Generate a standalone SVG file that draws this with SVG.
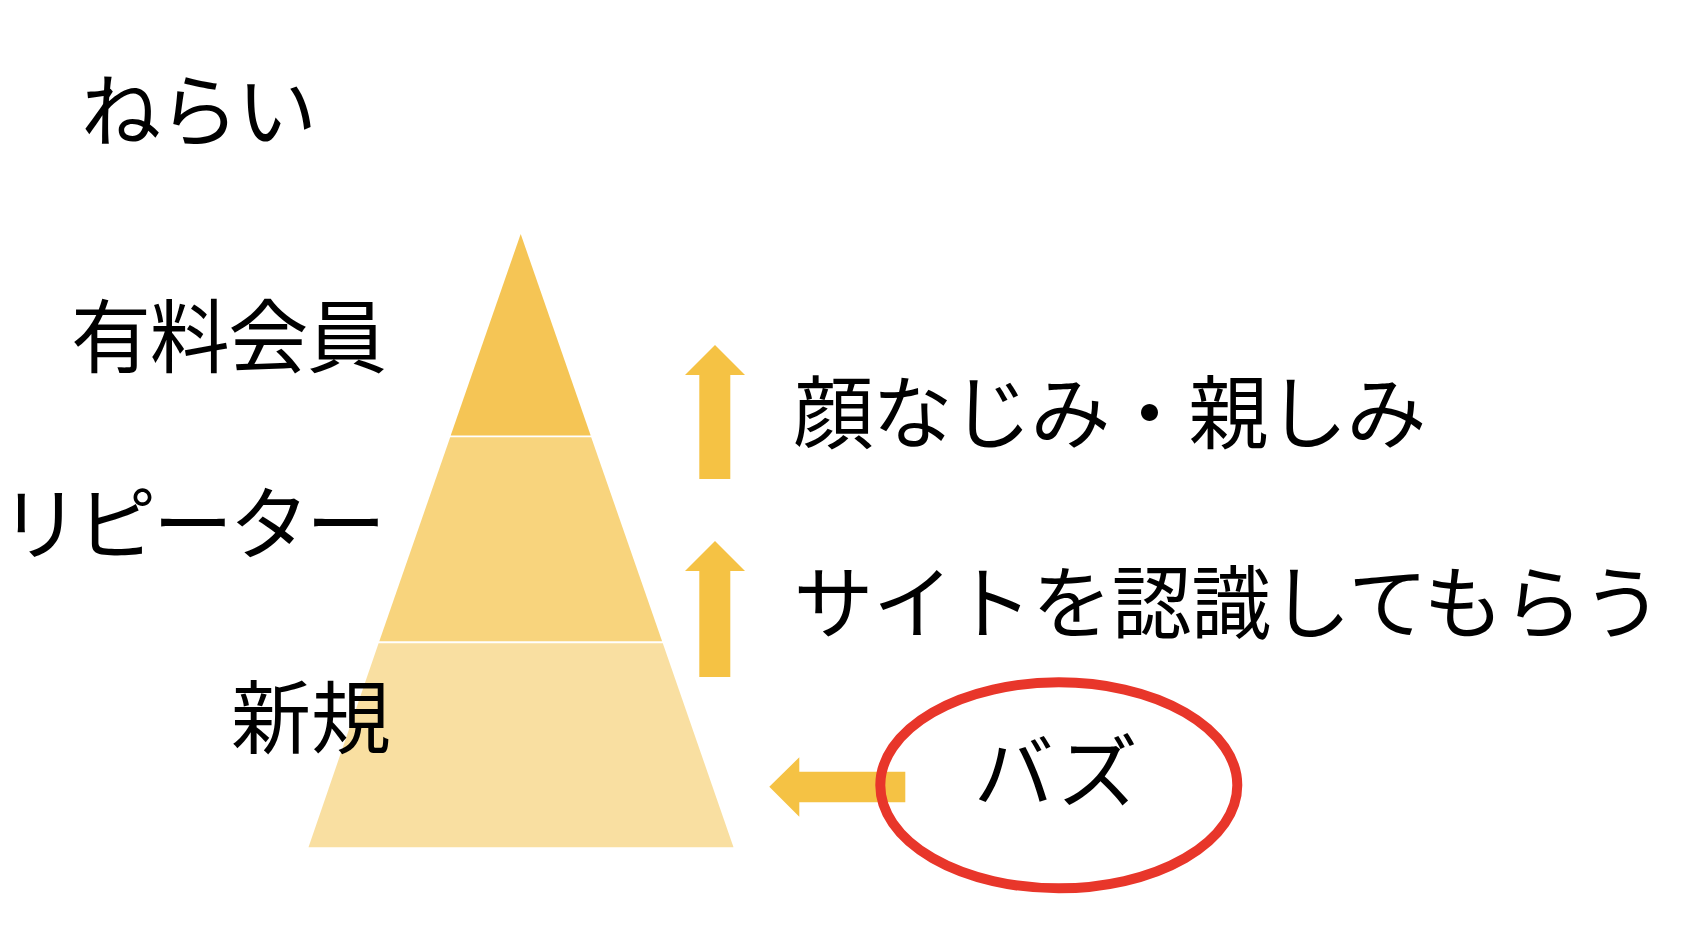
<svg xmlns="http://www.w3.org/2000/svg" width="1692" height="926" viewBox="0 0 1692 926">
<style>
.t{font-family:"Noto Sans CJK JP","Noto Sans CJK SC",sans-serif;font-size:80px;fill:#000;}
.arr{fill:#F5C244;}
</style>
<rect width="1692" height="926" fill="#fff"/>
<g id="title"><text class="t" x="81" y="140" textLength="236" lengthAdjust="spacing">ねらい</text></g>
<g id="pyramid">
<g id="tier-top"><polygon points="520.7,234 590.7,435.5 450.7,435.5" fill="#F5C555"/></g>
<g id="tier-mid"><polygon points="450.2,437.3 591.2,437.3 662.1,641.3 379.3,641.3" fill="#F8D47D"/></g>
<g id="tier-bottom"><polygon points="378.6,643.2 662.8,643.2 733.5,847.2 308.5,847.2" fill="#F9DFA1"/></g>
</g>
<g id="labels">
<g id="label-paid"><text class="t" x="71" y="366" textLength="316" lengthAdjust="spacing">有料会員</text></g>
<g id="label-repeater"><text class="t" x="0" y="553" textLength="386" lengthAdjust="spacing">リピーター</text></g>
<g id="label-new"><text class="t" x="231" y="747" textLength="160" lengthAdjust="spacing">新規</text></g>
</g>
<g id="connectors">
<polygon class="arr" points="715,345 745,375 730.3,375 730.3,479 699.3,479 699.3,375 685,375"/>
<polygon class="arr" points="715,541 745,571 730.3,571 730.3,677 699.3,677 699.3,571 685,571"/>
<polygon class="arr" points="769.3,786.7 799.3,757.3 799.3,771.7 905.3,771.7 905.3,802.3 799.3,802.3 799.3,816.7"/>
</g>
<g id="goal-familiar"><text class="t" x="793.6" y="442" textLength="633" lengthAdjust="spacing">顔なじみ・親しみ</text></g>
<g id="goal-recognize"><text class="t" x="793.5" y="632" textLength="869" lengthAdjust="spacing">サイトを認識してもらう</text></g>
<g id="buzz">
<ellipse cx="1058.8" cy="785.3" rx="178.5" ry="103" fill="none" stroke="#E8362A" stroke-width="10"/>
<text class="t" x="973.7" y="801" textLength="164" lengthAdjust="spacing">バズ</text>
</g>
</svg>
